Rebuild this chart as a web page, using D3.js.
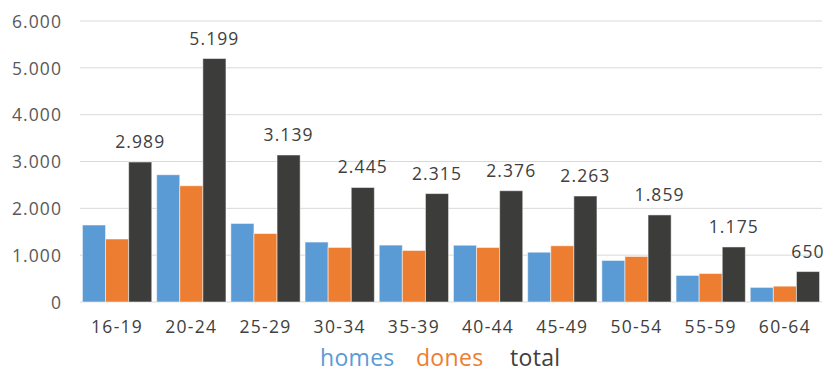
<!DOCTYPE html>
<html><head><meta charset="utf-8">
<script src="https://cdn.jsdelivr.net/npm/d3@7"></script>
<style>body{margin:0;background:#fff;} text{font-family:"Open Sans",sans-serif;}</style>
</head><body><svg id="c" width="826" height="374"></svg>
<script>
const categories = ["16-19","20-24","25-29","30-34","35-39","40-44","45-49","50-54","55-59","60-64"];
const homes = [1644,2717,1677,1280,1215,1212,1063,887,567,312];
const dones = [1345,2482,1462,1165,1100,1164,1200,972,608,338];
const total = [2989,5199,3139,2445,2315,2376,2263,1859,1175,650];
const seriesNames = ["homes","dones","total"];
const seriesColors = ["#5B9BD5","#ED7D31","#3C3C3B"];
const yTicks = [0,1000,2000,3000,4000,5000,6000];

(function () {
const svg = d3.select("#c");
const pLeft = 80, pRight = 822, pTop = 21, pBottom = 302;
const fmt = v => d3.format(",")(v).replace(/,/g, ".");

const x = d3.scaleBand().domain(categories).range([pLeft, pRight]).paddingInner(0.066).paddingOuter(0.033);
const xs = d3.scaleBand().domain(seriesNames).range([0, x.bandwidth()]);
const y = d3.scaleLinear().domain([0, 6000]).range([pBottom, pTop]);

// gridlines
svg.append("g").selectAll("line").data(yTicks).join("line")
  .attr("x1", pLeft).attr("x2", pRight)
  .attr("y1", d => y(d)).attr("y2", d => y(d))
  .attr("stroke", "#d9d9d9").attr("stroke-width", 1);

// y axis labels
const yAxis = d3.axisLeft(y).tickValues(yTicks).tickFormat(fmt).tickSize(0).tickPadding(0);
const ya = svg.append("g").attr("transform", `translate(62,0)`).call(yAxis);
ya.select(".domain").remove();
ya.selectAll("text").attr("font-family", "Open Sans").attr("font-size", 17.5).attr("fill", "#595959")
  .attr("letter-spacing", "1.1px").attr("dy", "0.36em");

// bars
const data = [homes, dones, total];
const g = svg.append("g");
seriesNames.forEach((s, si) => {
  g.append("g").selectAll("rect").data(categories).join("rect")
    .attr("x", c => x(c) + xs(s))
    .attr("width", xs.bandwidth())
    .attr("y", (c, i) => y(data[si][i]))
    .attr("height", (c, i) => y(0) - y(data[si][i]))
    .attr("fill", seriesColors[si])
    .attr("stroke", "rgba(255,255,255,0.5)").attr("stroke-width", 1);
});

// data labels on total
svg.append("g").selectAll("text").data(categories).join("text")
  .attr("x", c => x(c) + xs("total") + xs.bandwidth() / 2)
  .attr("y", (c, i) => y(total[i]) - 14)
  .attr("text-anchor", "middle")
  .attr("font-size", 17.5).attr("letter-spacing", "1.1px").attr("fill", "#404040")
  .text((c, i) => fmt(total[i]));

// x axis
const xAxis = d3.axisBottom(x).tickSize(0).tickPadding(0);
const xa = svg.append("g").attr("transform", `translate(0,${pBottom})`).call(xAxis);
xa.select(".domain").remove();
xa.selectAll("text").attr("font-family", "Open Sans").attr("font-size", 17.5).attr("fill", "#404040")
  .attr("letter-spacing", "1.3px").attr("dy", null).attr("y", 31);

// legend
const legX = [320, 416, 510];
svg.append("g").selectAll("text").data(seriesNames).join("text")
  .attr("x", (d, i) => legX[i]).attr("y", 366)
  .attr("font-size", 23).attr("letter-spacing", "0.3px")
  .attr("fill", (d, i) => i === 2 ? "#404040" : seriesColors[i])
  .text(d => d);
})();
</script></body></html>
